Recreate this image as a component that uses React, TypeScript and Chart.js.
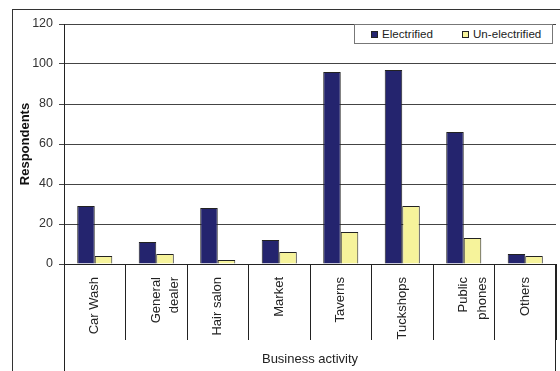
import React, { useEffect, useRef } from "react";
import { Chart, registerables } from "chart.js";

Chart.register(...registerables);

const categories: (string | string[])[] = [
  "Car Wash",
  ["General", "dealer"],
  "Hair salon",
  "Market",
  "Taverns",
  "Tuckshops",
  ["Public", "phones"],
  "Others",
];
const electrified = [29, 11, 28, 12, 96, 97, 66, 5];
const unElectrified = [4, 5, 2, 6, 16, 29, 13, 4];
const seriesNames = ["Electrified", "Un-electrified"];
const seriesColors = ["#24246e", "#f6f39b"];
const yTicks = [0, 20, 40, 60, 80, 100, 120];

const FONT = "'Liberation Sans', Arial, sans-serif";

const edgeLines = {
  id: "edgeLines",
  afterDraw(chart: any) {
    const { ctx, chartArea } = chart;
    ctx.save();
    ctx.strokeStyle = "#222";
    ctx.lineWidth = 1;
    ctx.beginPath();
    ctx.moveTo(Math.round(chartArea.left) + 0.5, chartArea.bottom);
    ctx.lineTo(Math.round(chartArea.left) + 0.5, chart.height);
    ctx.moveTo(Math.round(chartArea.right) - 0.5, chartArea.bottom);
    ctx.lineTo(Math.round(chartArea.right) - 0.5, chart.height);
    ctx.stroke();
    ctx.restore();
  },
};

export default function App() {
  const ref = useRef<HTMLCanvasElement>(null);
  useEffect(() => {
    const chart = new Chart(ref.current!, {
      type: "bar",
      data: {
        labels: categories,
        datasets: [
          {
            label: seriesNames[0],
            data: electrified,
            backgroundColor: seriesColors[0],
            borderColor: "#222",
            borderWidth: 1,
            categoryPercentage: 0.57,
            barPercentage: 1,
          },
          {
            label: seriesNames[1],
            data: unElectrified,
            backgroundColor: seriesColors[1],
            borderColor: "#222",
            borderWidth: 1,
            categoryPercentage: 0.57,
            barPercentage: 1,
          },
        ],
      },
      options: {
        animation: false,
        responsive: false,
        maintainAspectRatio: false,
        layout: { padding: { top: 24, right: 4, left: 0, bottom: 0 } },
        plugins: { legend: { display: false }, tooltip: { enabled: false } },
        scales: {
          x: {
            offset: true,
            grid: {
              offset: true,
              drawOnChartArea: false,
              drawTicks: true,
              tickLength: 76,
              color: "#222",
            },
            border: { color: "#222", width: 1 },
            ticks: {
              maxRotation: 90,
              minRotation: 90,
              padding: -63,
              color: "#222",
              font: { family: FONT, size: 13, lineHeight: 1.4 },
              autoSkip: false,
            },
            title: {
              display: true,
              text: "Business activity",
              color: "#222",
              font: { family: FONT, size: 13 },
              padding: { top: 4, bottom: 4 },
            },
            afterFit(scale: any) {
              scale.height = 107;
            },
          },
          y: {
            min: 0,
            max: 120,
            afterBuildTicks(scale: any) {
              scale.ticks = yTicks.map((v) => ({ value: v }));
            },
            grid: {
              color: "#444",
              tickLength: 5,
              drawTicks: true,
            },
            border: { color: "#222", width: 1 },
            ticks: {
              padding: 6,
              color: "#333",
              font: { family: FONT, size: 12.5 },
            },
            title: {
              display: true,
              text: "Respondents",
              color: "#111",
              font: { family: FONT, size: 13, weight: "bold" },
              padding: { top: 18, bottom: 0 },
            },
            afterFit(scale: any) {
              scale.width = 64;
            },
          },
        },
      },
      plugins: [edgeLines],
    });
    return () => chart.destroy();
  }, []);

  const sq = (c: string) => ({
    display: "inline-block",
    width: 5,
    height: 5,
    background: c,
    border: "1px solid #222",
    marginRight: 4,
    verticalAlign: "middle",
  });

  return (
    <div
      style={{
        position: "fixed",
        left: 0,
        top: 0,
        width: 560,
        height: 371,
        overflow: "hidden",
        background: "#fff",
      }}
    >
      <div
        style={{
          position: "absolute",
          left: 12,
          top: 9,
          width: 600,
          height: 400,
          borderTop: "1px solid #333",
          borderLeft: "1px solid #333",
        }}
      />
      <canvas
        ref={ref}
        width={560}
        height={371}
        style={{ position: "absolute", left: 0, top: 0, width: 560, height: 371 }}
      />
      <div
        style={{
          position: "absolute",
          left: 354,
          top: 24,
          width: 197,
          height: 18,
          border: "1px solid #777",
          background: "#fff",
          fontFamily: FONT,
          fontSize: 11.6,
          color: "#222",
          lineHeight: "18px",
          whiteSpace: "nowrap",
        }}
      >
        <span style={{ position: "absolute", left: 16, top: 0 }}>
          <span style={sq(seriesColors[0])} />
          {seriesNames[0]}
        </span>
        <span style={{ position: "absolute", left: 107, top: 0 }}>
          <span style={sq(seriesColors[1])} />
          {seriesNames[1]}
        </span>
      </div>
    </div>
  );
}
